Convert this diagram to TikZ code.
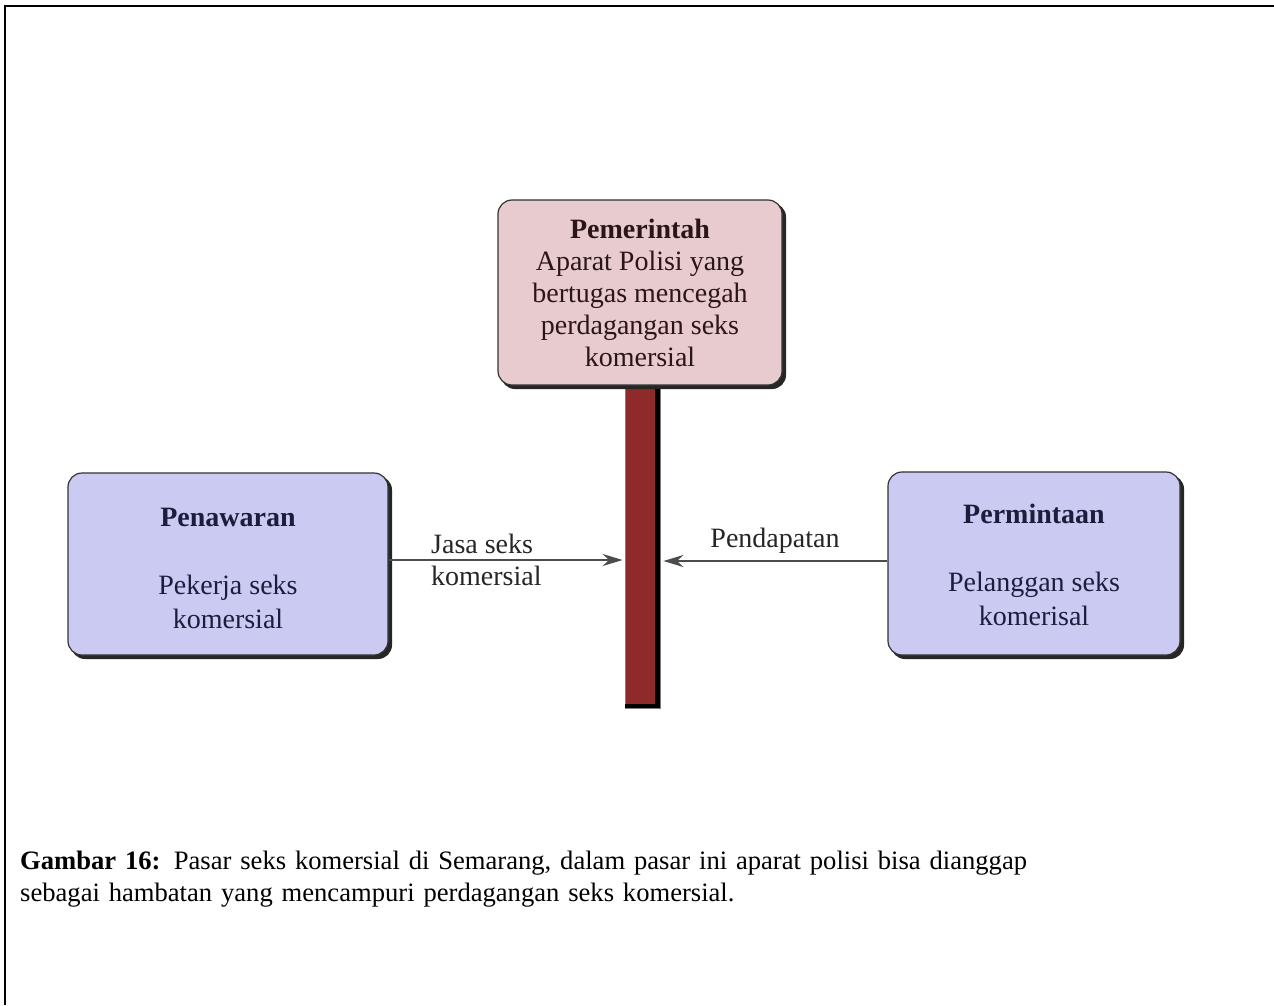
\documentclass[tikz,border=0pt]{standalone}
\usepackage{fontspec}
\setmainfont{Liberation Serif}
\usetikzlibrary{arrows.meta,calc}
\definecolor{pinkbox}{HTML}{E8CBCF}
\definecolor{lavbox}{HTML}{CACAF2}
\definecolor{postred}{HTML}{8E2A2A}
\definecolor{navytext}{HTML}{1C1C3C}
\definecolor{browntext}{HTML}{2A1616}
\tikzset{
  shadowbox/.style={rounded corners=14pt, draw=black!80, line width=1.2pt, align=center, inner sep=0pt,
     font=\fontsize{28}{32}\selectfont},
  boxtext/.style={align=center, inner sep=0pt, font=\fontsize{28}{34}\selectfont, text=navytext},
  arr/.style={draw=black!70, line width=2.6pt, -{Stealth[length=20pt,width=12pt,fill=black!30,open]}},
  lbl/.style={font=\fontsize{28}{32}\selectfont, text=black!85, inner sep=0pt, align=left},
  captiontext/.style={font=\fontsize{26.6}{32}\selectfont, inner sep=0pt, align=left, anchor=north west, text width=1250pt}
}
\begin{document}
\begin{tikzpicture}[x=1pt,y=-1pt]
\useasboundingbox (0,0) rectangle (1274,1005);
\fill[white] (0,0) rectangle (1274,1005);
% frame (top and left edges)
\coordinate (fa) at (1274,6);
\coordinate (fb) at (5,6);
\coordinate (fc) at (5,1005);
\draw[line width=2pt] (fa) -- (fb) -- (fc);

% post
\node[minimum width=35pt, minimum height=323pt, inner sep=0pt, fill=postred, draw=black!50, line width=0.8pt] (post) at (642.5,546.5) {};
\fill[black] ($(post.north east)+(-5,0)$) rectangle (post.south east);
\fill[black] ($(post.south west)+(0,-4)$) rectangle (post.south east);

% shadows
\fill[black!85, rounded corners=14pt] (501,203) rectangle (786,389);
\fill[black!85, rounded corners=14pt] (71,476) rectangle (392,659);
\fill[black!85, rounded corners=14pt] (891,475) rectangle (1184,659);

% boxes
\node[shadowbox, fill=pinkbox, text=browntext, minimum width=284pt, minimum height=185pt] (gov) at (640,292.5)
  {\textbf{Pemerintah}\\Aparat Polisi yang\\bertugas mencegah\\perdagangan seks\\komersial};
\node[shadowbox, fill=lavbox, minimum width=320pt, minimum height=182pt] (pen) at (228,564) {};
\node[boxtext] (pentext) at (228,568) {\textbf{Penawaran}\\[34pt]Pekerja seks\\komersial};
\node[shadowbox, fill=lavbox, minimum width=292pt, minimum height=183pt] (per) at (1034,563.5) {};
\node[boxtext] (pertext) at (1034,565) {\textbf{Permintaan}\\[34pt]Pelanggan seks\\komerisal};

% arrows
\draw[arr] ([yshift=4pt]pen.east) -- ([yshift=4pt,xshift=-2pt]pen.east -| post.west);
\draw[arr] ([yshift=2.5pt]per.west) -- ([yshift=2.5pt,xshift=3pt]per.west -| post.east);

% arrow labels
\node[lbl, anchor=west] (jasa) at (431,560) {Jasa seks\\komersial};
\node[lbl, anchor=center] (pend) at (775,541) {Pendapatan};

% caption
\node[captiontext] (caption) at (20,851)
  {\textbf{Gambar 16:} Pasar seks komersial di Semarang, dalam pasar ini aparat polisi bisa dianggap\\sebagai hambatan yang mencampuri perdagangan seks komersial.};
\end{tikzpicture}
\end{document}
